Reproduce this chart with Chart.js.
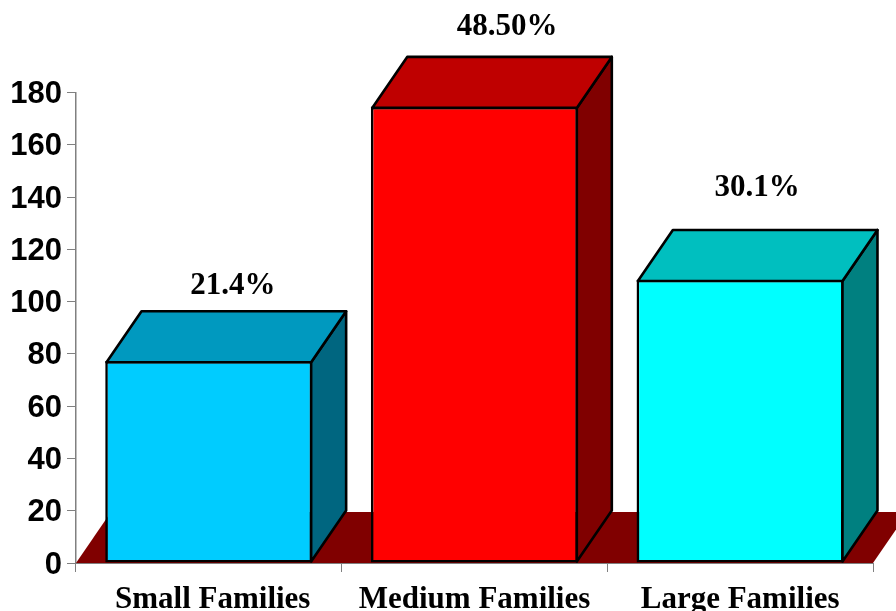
<!DOCTYPE html>
<html>
<head>
<meta charset="utf-8">
<style>
    html, body { margin: 0; padding: 0; background: #fff; overflow: hidden; }
    canvas { display: block; }
</style>
<script src="https://cdn.jsdelivr.net/npm/chart.js@4"></script>
</head>
<body>
<canvas id="families-chart" width="896" height="611"></canvas>
<script>
var categories = ['Small Families', 'Medium Families', 'Large Families'];
var values = [77.3, 174.6, 108.4];
var shareLabels = ['21.4%', '48.50%', '30.1%'];
var yTicks = [0, 20, 40, 60, 80, 100, 120, 140, 160, 180];

var frontColors = ['#00CCFF', '#FF0000', '#00FFFF'];
var topColors = ['#0099BF', '#BF0000', '#00BFBF'];
var sideColors = ['#006680', '#800000', '#008080'];
var floorColor = '#800000';

// Oblique offset of the back faces
var depthX = 35;
var depthY = 51;

// Share label placement relative to the front face centre and the back edge
var shareShifts = [24, 32.5, 17];
var shareGaps = [17, 21.5, 33.5];

function drawFace(ctx, points, fill, stroke) {
    ctx.beginPath();
    ctx.moveTo(points[0][0], points[0][1]);
    for (var i = 1; i < points.length; i++) {
        ctx.lineTo(points[i][0], points[i][1]);
    }
    ctx.closePath();
    ctx.fillStyle = fill;
    ctx.fill();
    if (stroke) {
        ctx.lineWidth = 2.6;
        ctx.lineJoin = 'round';
        ctx.strokeStyle = '#000';
        ctx.stroke();
    }
}

var floorPlugin = {
    id: 'floor3d',
    beforeDatasetsDraw: function(chart) {
        var x = chart.scales.x;
        var y0 = chart.scales.y.getPixelForValue(0);
        drawFace(chart.ctx, [
            [x.left, y0],
            [x.right, y0],
            [x.right + depthX, y0 - depthY],
            [x.left + depthX, y0 - depthY]
        ], floorColor, false);
    }
};

var boxPlugin = {
    id: 'box3d',
    afterDatasetsDraw: function(chart) {
        var ctx = chart.ctx;
        chart.getDatasetMeta(0).data.forEach(function(bar, i) {
            var left = bar.x - bar.width / 2 + 1.3;
            var right = bar.x + bar.width / 2 - 1.3;
            var top = bar.y + 1.3;
            var base = bar.base - 1;

            drawFace(ctx, [
                [right, top],
                [right + depthX, top - depthY],
                [right + depthX, base - depthY],
                [right, base]
            ], sideColors[i], true);

            drawFace(ctx, [
                [left, top],
                [left + depthX, top - depthY],
                [right + depthX, top - depthY],
                [right, top]
            ], topColors[i], true);

            // Share of households above each box
            ctx.save();
            ctx.font = 'bold 31px "Liberation Serif"';
            ctx.fillStyle = '#000';
            ctx.textAlign = 'center';
            ctx.textBaseline = 'alphabetic';
            ctx.fillText(shareLabels[i], bar.x + shareShifts[i], top - depthY - shareGaps[i]);
            ctx.restore();
        });
    }
};

new Chart(document.getElementById('families-chart').getContext('2d'), {
    type: 'bar',
    data: {
        labels: categories,
        datasets: [{
            data: values,
            backgroundColor: frontColors,
            borderColor: '#000',
            borderWidth: 2.6,
            borderSkipped: false,
            barPercentage: 0.78,
            categoryPercentage: 1
        }]
    },
    plugins: [floorPlugin, boxPlugin],
    options: {
        responsive: false,
        animation: false,
        layout: {
            padding: { top: 92.5, right: 23, bottom: 0, left: 0 }
        },
        plugins: {
            legend: { display: false },
            tooltip: { enabled: false }
        },
        scales: {
            x: {
                offset: true,
                afterFit: function(scale) { scale.height = 48; },
                grid: {
                    offset: true,
                    drawOnChartArea: false,
                    color: '#808080',
                    tickLength: 9
                },
                border: { color: '#808080', width: 1 },
                ticks: {
                    color: '#000',
                    padding: 9,
                    maxRotation: 0,
                    font: { family: '"Liberation Serif"', weight: 'bold', size: 31 },
                    // first label sits a little right of its tick centre
                    callback: function(value, index) {
                        var label = this.getLabelForValue(value);
                        return index === 0 ? '\u00A0' + label : label;
                    }
                }
            },
            y: {
                min: 0,
                max: 180,
                afterFit: function(scale) { scale.width = 76; },
                afterBuildTicks: function(scale) {
                    scale.ticks = yTicks.map(function(v) { return { value: v }; });
                },
                grid: {
                    drawOnChartArea: false,
                    color: '#808080',
                    tickLength: 9
                },
                border: { color: '#808080', width: 1.5 },
                ticks: {
                    color: '#000',
                    padding: 5,
                    labelOffset: 2,
                    font: { family: '"Liberation Sans"', weight: 'bold', size: 31 }
                }
            }
        }
    }
});
</script>
</body>
</html>
